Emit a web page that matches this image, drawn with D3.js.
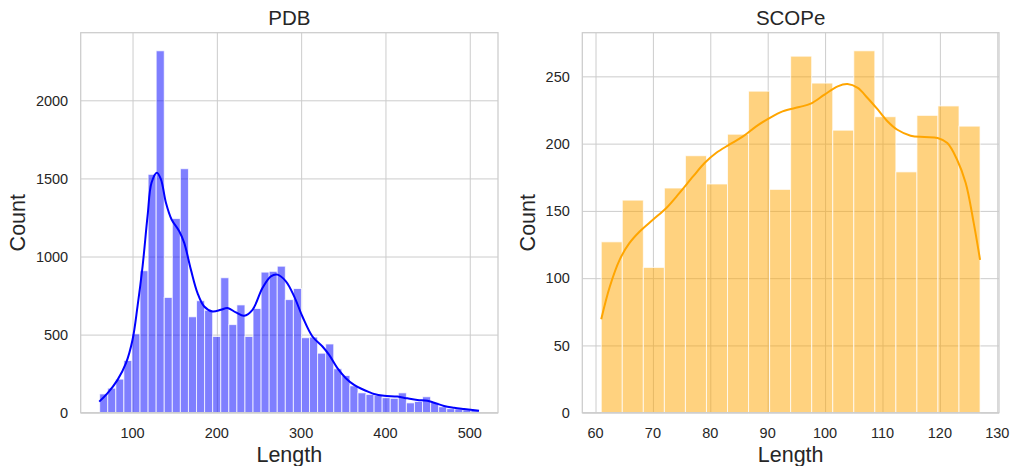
<!DOCTYPE html>
<html>
<head>
<meta charset="UTF-8">
<title>PDB / SCOPe length histograms</title>
<script src="https://cdn.jsdelivr.net/npm/d3@7"></script>
<style>
  body { margin: 0; background: #fff; }
  svg text { font-family: "Liberation Sans", Arial, sans-serif; fill: #262626; }
</style>
</head>
<body>
<svg id="chart" width="1014" height="466"></svg>
<script>
// PDB histogram: 47 bins between 61 and 511
var pdbMin = 61, pdbMax = 511;
var pdbCounts = [120,157,215,334,505,909,1526,2317,738,1243,1562,614,717,656,488,864,564,690,488,667,
                 900,905,938,724,795,480,484,381,440,281,238,172,127,117,110,96,92,127,63,72,
                 102,66,38,26,24,19,15];
// kde curve (length, count)
var pdbKde = [[60.5,71],[70.4,125],[82.2,210],[92.2,317],[100,467],[105.9,680],[111.9,937],[117.8,1258],
              [122.5,1472],[128.9,1537],[133.7,1494],[139.6,1344],[146.3,1237],[155.4,1162],[161.3,1087],
              [169.2,916],[177.1,766],[185,680],[194.8,648],[204.8,659],[212.6,670],[222.6,642],[232.4,621],
              [242.3,659],[254.1,798],[264.1,873],[271.9,884],[281.9,841],[291.7,745],[301.5,616],[313.4,488],
              [325.3,424],[333.2,370],[343,285],[353,221],[362.8,178],[372.7,150],[380,133],[386.5,120],
              [398.4,109],[414.2,103],[426,92],[437.9,82],[449.7,77],[457.7,64],[469.5,43],[481.4,32],
              [493.2,24],[511,13]];
var pdbXTicks = [100,200,300,400,500];
var pdbYTicks = [0,500,1000,1500,2000];

// SCOPe histogram: 18 bins between 61 and 127
var scopeMin = 61, scopeMax = 127;
var scopeCounts = [127,158,108,167,191,170,207,239,166,265,245,210,269,220,179,221,228,213];
var scopeKde = [[61,69.5],[62.5,93.8],[64.2,113.6],[65.9,126],[67.7,134.7],[70,143.4],[72.3,152],[74.6,163.2],
                [77,175.6],[79,185.6],[81,193],[83.3,199.2],[85.7,205.4],[88,212.8],[90.3,219],[92.6,224],
                [95.5,227.2],[97.5,229.7],[99.9,236.4],[102.2,242.6],[103.9,244.3],[105.7,241.4],[107.4,233.9],
                [109.2,225.2],[110.9,216.5],[112.6,210.3],[114.9,205.9],[117.3,204.9],[119.6,204.2],[121.3,200.4],
                [123,188],[124.5,170.7],[125.9,140.9],[127,113.6]];
var scopeXTicks = [60,70,80,90,100,110,120,130];
var scopeYTicks = [0,50,100,150,200,250];

var svg = d3.select("#chart");

function panel(opt) {
  var left = opt.left, right = opt.right, top = 32.7, bottom = 412.7;
  var n = opt.counts.length;
  var bw = (opt.max - opt.min) / n;
  var bins = opt.counts.map(function(c, i) {
    return {x0: opt.min + i * bw, x1: opt.min + (i + 1) * bw, count: c};
  });
  var pad = (opt.max - opt.min) * 0.05;
  var x = d3.scaleLinear().domain([opt.min - pad, opt.max + pad]).range([left, right]);
  var y = d3.scaleLinear().domain([0, d3.max(opt.counts) * 1.05]).range([bottom, top]);

  var g = svg.append("g");

  // grid
  g.append("g").attr("transform", "translate(0," + bottom + ")")
    .call(d3.axisBottom(x).tickValues(opt.xTicks).tickSize(-(bottom - top)).tickFormat(""))
    .call(function(s) { s.select(".domain").remove(); s.selectAll("line").attr("stroke", "#cccccc").attr("stroke-width", 1); });
  g.append("g").attr("transform", "translate(" + left + ",0)")
    .call(d3.axisLeft(y).tickValues(opt.yTicks).tickSize(-(right - left)).tickFormat(""))
    .call(function(s) { s.select(".domain").remove(); s.selectAll("line").attr("stroke", "#cccccc").attr("stroke-width", 1); });

  // bars
  g.append("g").selectAll("rect").data(bins).enter().append("rect")
    .attr("x", function(d) { return x(d.x0); })
    .attr("width", function(d) { return x(d.x1) - x(d.x0); })
    .attr("y", function(d) { return y(d.count); })
    .attr("height", function(d) { return bottom - y(d.count); })
    .attr("fill", opt.color).attr("fill-opacity", 0.5)
    .attr("stroke", "#ffffff").attr("stroke-opacity", 0.75).attr("stroke-width", 1);

  // kde line
  var line = d3.line()
    .x(function(d) { return x(d[0]); })
    .y(function(d) { return y(d[1]); })
    .curve(d3.curveCatmullRom.alpha(0.5));
  g.append("path").datum(opt.kde).attr("d", line)
    .attr("fill", "none").attr("stroke", opt.color).attr("stroke-width", opt.lw);

  // frame
  g.append("rect").attr("x", left).attr("y", top).attr("width", right - left).attr("height", bottom - top)
    .attr("fill", "none").attr("stroke", "#cccccc").attr("stroke-width", 1.25);

  // tick labels
  g.selectAll(".xt").data(opt.xTicks).enter().append("text")
    .attr("x", function(d) { return x(d); }).attr("y", 437.5)
    .attr("text-anchor", "middle").attr("font-size", 14.5).text(function(d) { return d; });
  g.selectAll(".yt").data(opt.yTicks).enter().append("text")
    .attr("x", left - 12.5).attr("y", function(d) { return y(d) + 5.2; })
    .attr("text-anchor", "end").attr("font-size", 14.5).text(function(d) { return d; });

  // labels
  g.append("text").attr("x", (left + right) / 2).attr("y", 461.5)
    .attr("text-anchor", "middle").attr("font-size", 21.5).text("Length");
  g.append("text").attr("transform", "translate(" + opt.ylabX + "," + (top + bottom) / 2 + ") rotate(-90)")
    .attr("text-anchor", "middle").attr("font-size", 21.5).text("Count");
  g.append("text").attr("x", (left + right) / 2).attr("y", 25)
    .attr("text-anchor", "middle").attr("font-size", 20.5).text(opt.title);
}

panel({left: 80.7, right: 498, min: pdbMin, max: pdbMax, counts: pdbCounts, kde: pdbKde,
       xTicks: pdbXTicks, yTicks: pdbYTicks, color: "#0000ff", lw: 2, title: "PDB", ylabX: 25});
panel({left: 582.3, right: 999, min: scopeMin, max: scopeMax, counts: scopeCounts, kde: scopeKde,
       xTicks: scopeXTicks, yTicks: scopeYTicks, color: "#ffa500", lw: 2, title: "SCOPe", ylabX: 535});
</script>
</body>
</html>
